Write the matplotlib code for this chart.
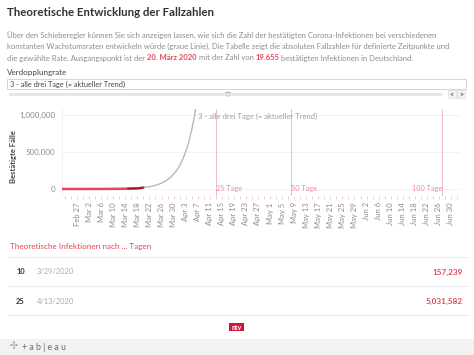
import matplotlib
matplotlib.use("Agg")
import matplotlib.pyplot as plt
from matplotlib.patches import Rectangle, Circle
import datetime as dt

plt.rcParams['font.family'] = ['Lato', 'DejaVu Sans']

# confirmed cases (red line), Feb 22 .. Mar 20
actual_start = dt.date(2020, 2, 22)
actual_cases = [16, 16, 16, 18, 21, 26, 53, 66, 117, 150, 188, 240, 349, 534,
                684, 847, 1112, 1460, 1884, 2369, 3062, 3795, 4838, 6012, 7156,
                8198, 10999, 19655]

# theoretical curve, doubling every three days (grey line), Mar 20 .. Apr 7
trend_start = dt.date(2020, 3, 20)
trend_cases = [19655, 24764, 31200, 39310, 49528, 62400, 78620, 99056, 124800,
               157239, 198112, 249600, 314480, 396224, 499200, 628960, 792448,
               998400, 1257920]
trend_label = "3 - alle drei Tage (= aktueller Trend)"

# marker lines
marker_days = [25, 50, 100]
marker_dates = [dt.date(2020, 4, 13), dt.date(2020, 5, 8), dt.date(2020, 6, 27)]

# table
table_days = ["10", "25"]
table_dates = ["3/29/2020", "4/13/2020"]
table_values = ["157,239", "5,031,582"]

RED = "#e0475e"
GREY_TXT = "#8c8c8c"
W, H = 474, 355

fig = plt.figure(figsize=(W / 100, H / 100), dpi=100)
fig.patch.set_facecolor("white")


def fx(px):
    return px / W


def fy(py):
    return 1 - py / H


# header text
fig.text(fx(7), fy(12), "Theoretische Entwicklung der Fallzahlen", fontsize=8.3,
         fontweight="bold", color="#333333", va="center")

para = ["Über den Schieberegler können Sie sich anzeigen lassen, wie sich die Zahl der bestätigten Corona-Infektionen bei verschiedenen",
        "konstanten Wachstumsraten entwickeln würde (graue Linie). Die Tabelle zeigt die absoluten Fallzahlen für definierte Zeitpunkte und"]
for i, line in enumerate(para):
    fig.text(fx(7), fy(35 + 11.5 * i), line, fontsize=5.5, color=GREY_TXT, va="center")

# third line with highlighted parts
pieces = [("die gewählte Rate. Ausgangspunkt ist der ", GREY_TXT, "normal"),
          ("20. März 2020", RED, "bold"),
          (" mit der Zahl von ", GREY_TXT, "normal"),
          ("19.655", RED, "bold"),
          (" bestätigten Infektionen in Deutschland.", GREY_TXT, "normal")]
fig.canvas.draw()
renderer = fig.canvas.get_renderer()
xpos = 7
for txt, col, wt in pieces:
    t = fig.text(fx(xpos), fy(58), txt, fontsize=5.5, color=col, fontweight=wt, va="center")
    bb = t.get_window_extent(renderer=renderer)
    xpos += bb.width

fig.text(fx(7), fy(72), "Verdopplungrate", fontsize=5.8, color="#444444", va="center")
fig.patches.append(Rectangle((fx(7), fy(89)), fx(459), 10 / H, transform=fig.transFigure,
                             facecolor="white", edgecolor="#d4d4d4", lw=0.7))
fig.text(fx(10), fy(84), trend_label, fontsize=5.3, color="#444444", va="center")

# slider
fig.add_artist(plt.Line2D([fx(10), fx(441)], [fy(94), fy(94)], color="#e2e2e2", lw=1.8))
fig.add_artist(Circle((fx(228), fy(94)), 2.6 / W, transform=fig.transFigure,
                      facecolor="white", edgecolor="#888888", lw=0.6))
for ax_x, sym in [(452, "<"), (461, ">")]:
    fig.patches.append(Rectangle((fx(ax_x - 4), fy(98)), 8 / W, 8 / H, transform=fig.transFigure,
                                 facecolor="#f4f4f4", edgecolor="#dddddd", lw=0.5))
    fig.text(fx(ax_x), fy(94), sym, fontsize=5, color="#555555", ha="center", va="center",
             fontweight="bold")

# chart
ax = fig.add_axes([fx(62), fy(196), fx(460) - fx(62), (196 - 109) / H])
actual_x = [actual_start + dt.timedelta(days=i) for i in range(len(actual_cases))]
trend_x = [trend_start + dt.timedelta(days=i) for i in range(len(trend_cases))]

ax.plot(trend_x, trend_cases, color="#b8b8b8", lw=1.0, zorder=3)
ax.plot(actual_x, actual_cases, color=RED, lw=1.8, zorder=4, solid_capstyle="butt")
ax.plot(actual_x[-6:], actual_cases[-6:], color="#7a0c1c", lw=1.4, zorder=5, alpha=0.75)

for d, md in zip(marker_days, marker_dates):
    ax.axvline(md, color="#f3b9c2", lw=0.7, zorder=2)
    if d == 100:
        ax.text(md - dt.timedelta(days=0.6), 0, "%d Tage" % d, fontsize=5.3, color="#ee8d9c",
                ha="right", va="center")
    else:
        ax.text(md + dt.timedelta(days=0.6), 0, "%d Tage" % d, fontsize=5.3, color="#ee8d9c",
                ha="left", va="center")

ax.text(dt.date(2020, 4, 7), 985000, trend_label, fontsize=5.5, color="#a0a0a0", va="center")

ax.set_xlim(dt.date(2020, 2, 22), dt.date(2020, 7, 3))
ax.set_ylim(-95000, 1081000)
ax.set_yticks([0, 500000, 1000000])
ax.set_yticklabels(["0", "500,000", "1,000,000"])
ax.grid(axis="y", color="#f0f0f0", lw=0.6)
ax.set_axisbelow(True)

major_dates = []
d = dt.date(2020, 2, 27)
while d <= dt.date(2020, 6, 30):
    major_dates.append(d)
    d += dt.timedelta(days=4)
ax.set_xticks(major_dates)
ax.set_xticklabels([m.strftime("%b ") + str(m.day) for m in major_dates], rotation=90,
                   fontsize=5.5, color=GREY_TXT)
minor_dates = [dt.date(2020, 2, 23) + dt.timedelta(days=2 * i) for i in range(66)]
ax.set_xticks(minor_dates, minor=True)
ax.tick_params(axis="x", which="both", length=2.5, width=0.5, color="#f0b0ba", pad=2)
ax.tick_params(axis="y", length=0, labelsize=5.8, labelcolor=GREY_TXT, pad=5)

for s in ["top", "right", "bottom"]:
    ax.spines[s].set_visible(False)
ax.spines["left"].set_color("#eeeeee")
ax.spines["left"].set_linewidth(0.6)
ax.set_ylabel("Bestätigte Fälle", fontsize=5.5, fontweight="bold", color="#444444")
ax.yaxis.set_label_coords((17 - 62) / 398, 0.45)

# table
fig.text(fx(10), fy(247), "Theoretische Infektionen nach ... Tagen", fontsize=5.9,
         color=RED, va="center")
for yy in [257, 286, 315]:
    fig.add_artist(plt.Line2D([fx(8), fx(468)], [fy(yy), fy(yy)], color="#e8e8e8", lw=0.6))
for i in range(len(table_days)):
    yy = 272 + 29 * i
    fig.text(fx(16), fy(yy), table_days[i], fontsize=5.4, fontweight="bold", color="#333333",
             va="center")
    fig.text(fx(37), fy(yy), table_dates[i], fontsize=5.4, color="#aaaaaa", va="center")
    fig.text(fx(463), fy(yy), table_values[i], fontsize=5.9, fontweight="bold", color=RED,
             ha="right", va="center")

# ntv logo
fig.patches.append(Rectangle((fx(229), fy(331)), 15 / W, 8 / H, transform=fig.transFigure,
                             facecolor="#d5153a", edgecolor="none"))
fig.text(fx(236.5), fy(327), "ntv", fontsize=5, fontweight="bold", color="white",
         ha="center", va="center")

# footer
fig.patches.append(Rectangle((0, 0), 1, 16 / H, transform=fig.transFigure,
                             facecolor="#f2f2f2", edgecolor="none"))
fig.text(fx(10), fy(347), "✢", fontsize=7, color="#9a9a9a", va="center")
fig.text(fx(22), fy(347), "+ a b | e a u", fontsize=6.3, color="#6a6a6a", va="center")

fig.savefig("out.png", dpi=100, facecolor="white")
